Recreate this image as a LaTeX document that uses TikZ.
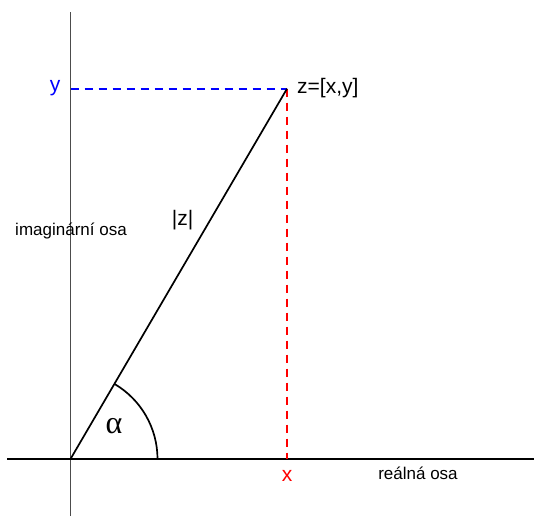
\documentclass[tikz,border=0pt]{standalone}
\usepackage{fontspec}
\setmainfont{Liberation Sans}
\newfontfamily\greekfont{Liberation Serif}
\begin{document}
\begin{tikzpicture}[x=1pt,y=1pt,
  axis/.style={line width=1.5pt},
  lbl/.style={inner sep=0pt,font=\fontsize{17}{17}\selectfont},
  big/.style={inner sep=0pt,font=\fontsize{21}{21}\selectfont},
  guide/.style={line width=1.8pt,dash pattern=on 8pt off 6pt}]
\useasboundingbox (0,0) rectangle (534,516);
\coordinate (O) at (70.5,57);
\coordinate (Z) at (287,427.3);
\coordinate (Ytop) at (70.5,503.5);
\coordinate (Ybot) at (70.5,0);
\coordinate (Xl) at (7,57);
\coordinate (Xr) at (534,57);
\coordinate (Yp) at (70.5,427.3);
\coordinate (Xp) at (287,57);
\draw[line width=1.3pt,black!70] (Ybot) -- (Ytop);
\draw[axis] (Xl) -- (Xr);
\draw[guide,blue] (Yp) -- (Z);
\draw[guide,red] (Z) -- (Xp);
\draw[line width=1.7pt] (O) -- (Z);
\draw[line width=1.7pt] ([shift={(0:87)}]O) arc[start angle=0,end angle=59.6,radius=87];
\node[big,blue] (ly) at (55,427.5) {y};
\node[big,anchor=west] (lz) at (297,427.5) {z=[x,y]};
\node[big] (labs) at (182.5,296) {|z|};
\node[lbl] (lim) at (71,284.5) {imaginární osa};
\node[inner sep=0pt,font=\greekfont\fontsize{32}{32}\selectfont] (la) at (114,90) {α};
\node[big,red] (lx) at (287,40) {x};
\node[lbl] (lre) at (418,43) {reálná osa};
\end{tikzpicture}
\end{document}
